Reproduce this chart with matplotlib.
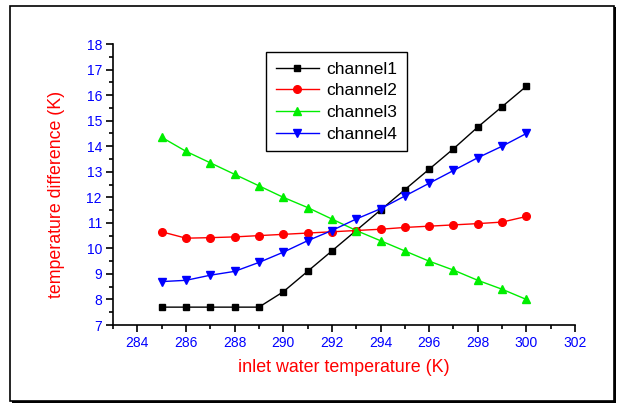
import matplotlib

matplotlib.use("Agg")

import matplotlib.pyplot as plt
from matplotlib.patches import Rectangle
from matplotlib.ticker import MultipleLocator

plt.rcParams["font.family"] = ["Liberation Sans", "DejaVu Sans"]

inlet_temp = [285, 286, 287, 288, 289, 290, 291, 292, 293, 294, 295, 296, 297, 298, 299, 300]
channel1 = [7.7, 7.7, 7.7, 7.7, 7.7, 8.3, 9.1, 9.9, 10.7, 11.5, 12.3, 13.1, 13.9, 14.75, 15.55, 16.35]
channel2 = [10.65, 10.4, 10.42, 10.45, 10.5, 10.55, 10.6, 10.65, 10.7, 10.75, 10.82, 10.87, 10.92, 10.97, 11.03, 11.25]
channel3 = [14.35, 13.8, 13.35, 12.9, 12.45, 12.0, 11.6, 11.15, 10.7, 10.3, 9.9, 9.5, 9.15, 8.75, 8.4, 8.0]
channel4 = [8.7, 8.75, 8.95, 9.1, 9.45, 9.85, 10.3, 10.7, 11.15, 11.55, 12.05, 12.55, 13.05, 13.55, 14.0, 14.5]

fig = plt.figure(figsize=(6.19, 4.08), dpi=100)
fig.patch.set_facecolor("white")

# outer frame with a small drop shadow, like the Origin export
fig.patches.append(Rectangle((0.020, 0.012), 0.975, 0.970, transform=fig.transFigure,
                             facecolor="black", edgecolor="none", zorder=-2))
fig.patches.append(Rectangle((0.0162, 0.017), 0.975, 0.968, transform=fig.transFigure,
                             facecolor="white", edgecolor="black", linewidth=1.2, zorder=-1))

ax = fig.add_axes([0.1826, 0.2034, 0.7464, 0.6886])
ax.set_facecolor("none")

ax.plot(inlet_temp, channel1, color="black", marker="s", markersize=5, linewidth=1, label="channel1")
ax.plot(inlet_temp, channel2, color="red", marker="o", markersize=5.5, linewidth=1, label="channel2")
ax.plot(inlet_temp, channel3, color="#00ee00", marker="^", markersize=6, linewidth=1, label="channel3")
ax.plot(inlet_temp, channel4, color="blue", marker="v", markersize=6, linewidth=1, label="channel4")

ax.set_xlim(283, 302)
ax.set_ylim(7, 18)
ax.xaxis.set_major_locator(MultipleLocator(2))
ax.xaxis.set_minor_locator(MultipleLocator(1))
ax.yaxis.set_major_locator(MultipleLocator(1))
ax.yaxis.set_minor_locator(MultipleLocator(0.5))

for side in ("top", "right"):
    ax.spines[side].set_visible(False)
for side in ("left", "bottom"):
    ax.spines[side].set_linewidth(1.2)

ax.tick_params(which="major", direction="out", length=5, width=1.2, labelsize=10, labelcolor="blue")
ax.tick_params(which="minor", direction="out", length=3, width=1.2)
ax.tick_params(axis="x", pad=3)
ax.tick_params(axis="y", pad=3)

ax.set_xlabel("inlet water temperature (K)", color="red", fontsize=12.9)
ax.set_ylabel("temperature difference (K)", color="red", fontsize=12.8)
ax.xaxis.set_label_coords(0.5, -0.121)
ax.yaxis.set_label_coords(-0.103, 0.463)

leg = ax.legend(loc="upper left", bbox_to_anchor=(0.331, 0.972), fontsize=12.5, handlelength=2.5,
                handletextpad=0.45, labelspacing=0.38, borderpad=0.55, frameon=True, fancybox=False,
                framealpha=1, borderaxespad=0)
leg.get_frame().set_edgecolor("black")
leg.get_frame().set_linewidth(1)

fig.savefig("out.png", dpi=100)
